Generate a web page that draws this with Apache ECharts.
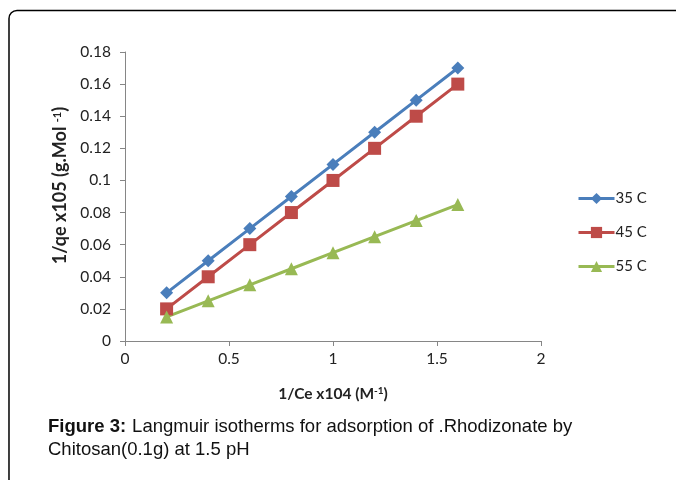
<!DOCTYPE html>
<html><head><meta charset="utf-8">
<script src="https://cdn.jsdelivr.net/npm/echarts@6/dist/echarts.min.js"></script>
<style>html,body{margin:0;padding:0;background:#fff}#c{width:676px;height:480px}</style>
</head><body><div id="c"></div>
<script>
var xValues = [0.2, 0.4, 0.6, 0.8, 1.0, 1.2, 1.4, 1.6];
var s35 = [0.03, 0.05, 0.07, 0.09, 0.11, 0.13, 0.15, 0.17];
var s45 = [0.02, 0.04, 0.06, 0.08, 0.10, 0.12, 0.14, 0.16];
var s55 = [0.015, 0.025, 0.035, 0.045, 0.055, 0.065, 0.075, 0.085];
var seriesNames = ['35 C', '45 C', '55 C'];

function pairs(ys){ return xValues.map(function(x,i){ return [x, ys[i]]; }); }
var font = 'Lato, "Open Sans", sans-serif';
var capFont = '"Liberation Sans", Arial, sans-serif';
var chart = echarts.init(document.getElementById('c'));
chart.setOption({
  animation: false,
  grid: {left: 125, top: 52, right: 135, bottom: 139},
  xAxis: {
    type: 'value', min: 0, max: 2, interval: 0.5,
    axisLine: {show: true, lineStyle: {color: '#868686'}},
    axisTick: {show: true, length: 5, lineStyle: {color: '#868686'}},
    splitLine: {show: false},
    axisLabel: {color: '#222', fontSize: 15.5, fontFamily: font, margin: 10},
    name: '{a|1/Ce x104 (M}{s|-1}{a|)}',
    nameLocation: 'middle', nameGap: 45,
    nameTextStyle: {rich: {
      a: {fontSize: 15.5, fontWeight: 'bold', fontFamily: font, color: '#222'},
      s: {fontSize: 10, fontWeight: 'bold', fontFamily: font, color: '#222', verticalAlign: 'top', padding: [0,0,6,0]}
    }}
  },
  yAxis: {
    type: 'value', min: 0, max: 0.18, interval: 0.02,
    axisLine: {show: true, lineStyle: {color: '#868686'}},
    axisTick: {show: true, length: 5, lineStyle: {color: '#868686'}},
    splitLine: {show: false},
    axisLabel: {color: '#222', fontSize: 15.5, fontFamily: font, margin: 14},
    name: '{a|1/qe x105 (g.Mol }{s|-1}{a|)}',
    nameLocation: 'middle', nameGap: 55, nameRotate: 90,
    nameTextStyle: {padding: [0,0,0,22], rich: {
      a: {fontSize: 18, fontWeight: 'bold', fontFamily: font, color: '#222'},
      s: {fontSize: 11, fontWeight: 'bold', fontFamily: font, color: '#222', verticalAlign: 'top', padding: [0,0,7,0]}
    }}
  },
  legend: {
    orient: 'vertical', left: 572, top: 186, itemWidth: 36, itemHeight: 14, itemGap: 19,
    lineStyle: {width: 3},
    textStyle: {fontSize: 15, fontFamily: font, color: '#222', padding: [0,0,0,-4]},
    data: seriesNames
  },
  series: [
    {name: seriesNames[0], type: 'line', data: pairs(s35), symbol: 'diamond', symbolSize: 13,
     lineStyle: {color: '#4a7ebb', width: 3}, itemStyle: {color: '#4a7ebb'}},
    {name: seriesNames[1], type: 'line', data: pairs(s45), symbol: 'rect', symbolSize: 13,
     lineStyle: {color: '#be4b48', width: 3}, itemStyle: {color: '#be4b48'}},
    {name: seriesNames[2], type: 'line', data: pairs(s55), symbol: 'triangle', symbolSize: 13,
     lineStyle: {color: '#98b954', width: 3}, itemStyle: {color: '#98b954'}}
  ],
  graphic: [
    {type: 'rect', shape: {x: 9, y: 10.5, width: 720, height: 520, r: 8}, silent: true,
     style: {fill: 'none', stroke: '#000', lineWidth: 1.5}},
    {type: 'text', left: 48, top: 417, silent: true,
     style: {text: '{b|Figure 3:}{n|Langmuir isotherms for adsorption of .Rhodizonate by}',
       rich: {b: {fontSize: 18.5, fontWeight: 'bold', fontFamily: capFont, fill: '#111', padding: [0,6,0,0]},
              n: {fontSize: 18.5, fontFamily: capFont, fill: '#111'}}}},
    {type: 'text', left: 48, top: 440, silent: true,
     style: {text: 'Chitosan(0.1g) at 1.5 pH', fontSize: 18.5, fontFamily: capFont, fill: '#111'}}
  ]
});
</script></body></html>
